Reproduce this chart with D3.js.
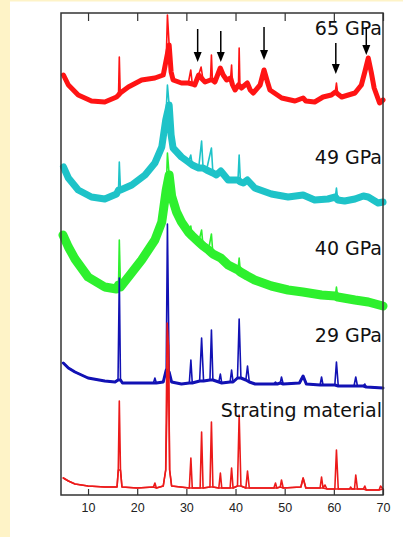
<!DOCTYPE html>
<meta charset="utf-8">
<style>
body { margin: 0; background: #fff; }
svg { display: block; }
.axis text { font: 12.5px "Liberation Sans", sans-serif; fill: #222; }
.axis path { display: none; }
.axis line { stroke: #333; stroke-width: 1.2; }
.band, .trace { fill: none; stroke-linejoin: round; stroke-linecap: round; }
.label { font: 19px "DejaVu Sans", sans-serif; fill: #111; text-anchor: end; }
</style>
<body>
<svg width="403" height="537"></svg>
<script src="https://d3js.org/d3.v7.min.js"></script>
<script>
// [2theta (deg), intensity (arb. units, patterns stacked)]
var p65 = [[5.0,420],[6.0,410],[8.0,400],[10.7,394],[13.4,393],[15.8,398],[16.2,400],[16.36,438],[16.55,402],[18.2,408],[20.9,415],[23.6,417],[25.3,420],[25.9,435],[26.15,480],[26.5,450],[26.9,423],[27.3,415],[29.0,412],[30.4,412],[30.9,425],[31.2,411],[31.7,410],[32.5,420],[33.0,428],[33.4,415],[33.8,413],[34.9,415],[35.1,440],[35.3,415],[35.8,413],[36.9,427],[37.5,420],[38.2,415],[39.0,417],[39.2,430],[39.4,410],[39.9,405],[40.6,410],[40.74,447],[40.9,409],[41.2,407],[42.4,412],[43.0,405],[43.6,402],[45.0,410],[45.8,425],[46.5,413],[47.0,405],[49.4,397],[52.1,394],[53.75,397],[54.3,394],[56.1,393],[57.8,398],[59.5,400],[60.3,403],[60.53,412],[60.8,401],[61.6,398],[64.3,402],[65.6,410],[66.3,423],[67.0,437],[67.6,423],[68.2,407],[69.3,392],[70.0,395]];
var p49 = [[5.0,328],[6.0,317],[8.0,305],[10.7,298],[13.4,296],[15.8,301],[16.2,305],[16.36,333],[16.6,305],[18.9,310],[21.6,320],[23.6,332],[25.0,348],[25.8,375],[26.15,410],[26.5,390],[26.9,360],[27.3,347],[29.0,338],[30.4,333],[30.9,340],[31.2,330],[32.5,327],[33.1,354],[33.4,327],[34.1,325],[35.1,347],[35.4,322],[36.1,320],[37.0,324],[38.5,315],[40.5,315],[40.74,340],[41.0,313],[41.6,312],[42.4,315],[43.9,307],[47.3,301],[50.7,298],[53.75,300],[56.1,295],[58.8,296],[60.3,298],[60.53,307],[60.8,295],[62.2,294],[64.3,296],[66.0,299],[67.0,298],[69.0,292],[70.0,293]];
var p40 = [[4.9,260],[6.0,248],[7.35,236],[10.0,218],[13.4,208],[15.8,206],[16.2,210],[16.36,255],[16.6,208],[18.2,218],[20.9,235],[23.6,255],[25.0,273],[25.9,305],[26.15,342],[26.5,320],[27.0,299],[28.0,283],[29.0,273],[30.4,263],[30.9,269],[31.2,259],[32.5,253],[33.1,265],[33.4,249],[34.5,245],[35.1,261],[35.4,241],[37.0,237],[38.5,230],[40.5,225],[40.74,237],[41.0,223],[42.4,219],[43.9,215],[47.3,209],[50.7,205],[53.7,203],[57.5,200],[60.3,199],[60.53,208],[60.8,198],[64.3,195],[67.0,193],[70.0,189]];
var p29 = [[4.97,132],[6.0,127],[7.35,123],[10.0,117],[13.4,114],[15.5,113],[16.1,115],[16.36,217],[16.6,115],[17.0,112],[20.0,112],[23.3,112],[23.6,117],[23.9,112],[25.3,113],[25.9,125],[26.15,271],[26.5,123],[27.0,113],[29.0,111],[30.6,112],[30.92,135],[31.2,112],[32.7,114],[33.1,157],[33.5,114],[34.8,115],[35.1,165],[35.4,115],[36.6,113],[36.92,121],[37.2,112],[38.9,113],[39.2,125],[39.5,113],[40.4,117],[40.74,176],[41.1,117],[42.1,115],[42.44,129],[42.8,113],[44.0,111],[47.8,111],[48.13,113],[48.5,111],[49.1,112],[49.35,118],[49.7,111],[53.0,112],[53.75,119],[54.4,111],[57.2,110],[57.5,118],[57.8,110],[60.2,110],[60.53,133],[60.9,109],[64.1,109],[64.46,118],[64.8,109],[66.0,109],[66.3,111],[66.6,108],[70.0,107]];
var pStart = [[4.97,17],[6.0,14],[7.35,11],[10.0,9],[13.4,8],[15.9,8],[16.15,25],[16.36,94],[16.6,25],[16.9,8],[20.0,7],[23.3,8],[23.6,12],[23.9,7],[25.3,9],[25.8,25],[26.1,172],[26.35,150],[26.6,25],[27.0,9],[30.6,7],[30.92,37],[31.2,7],[32.8,7],[33.1,63],[33.4,7],[34.8,8],[35.1,73],[35.4,8],[36.6,7],[36.92,22],[37.2,7],[38.9,7],[39.2,27],[39.5,7],[40.4,9],[40.74,80],[41.1,9],[42.1,7],[42.44,24],[42.8,7],[47.8,7],[48.13,12],[48.4,7],[49.1,8],[49.35,15],[49.7,7],[53.3,8],[53.75,17],[54.3,7],[57.2,7],[57.5,18],[57.8,7],[58.2,10],[58.6,6],[60.2,6],[60.53,45],[60.9,6],[63.2,6],[63.4,8],[63.7,6],[64.2,6],[64.46,20],[64.8,6],[66.0,6],[66.3,9],[66.6,5],[69.2,5],[69.5,9],[70.0,6]];

var names = ["65 GPa", "49 GPa", "40 GPa", "29 GPa", "Strating material"];
var patterns = [p65, p49, p40, p29, pStart];
var colors = ["#ff1414", "#1ec3c8", "#2ef02e", "#1212b4", "#ec1a1a"];
var noiseWidth = [5, 7, 9, 3, 1.5];   // thickness of the noisy background band
var labelLevel = [460, 331, 240, 153, 78];

// arrows on the 65 GPa pattern: 2theta, tip and tail intensity
var arrowTheta = [32.3, 37.0, 45.8, 60.4, 66.6];
var arrowTip = [433, 433, 435, 421, 440];
var arrowTail = [466, 464, 468, 452, 468];

var xTicks = [10, 20, 30, 40, 50, 60, 70];

var svg = d3.select("svg"),
    margin = {top: 13, right: 20, bottom: 42, left: 61},
    width = +svg.attr("width") - margin.left - margin.right,
    height = +svg.attr("height") - margin.top - margin.bottom;

// page background
svg.append("rect").attr("width", 10).attr("height", 537).attr("fill", "#fef3c7");
svg.append("rect").attr("width", 403).attr("height", 1.5).attr("fill", "#fef3c7");

var g = svg.append("g").attr("transform", "translate(" + margin.left + "," + margin.top + ")");

var x = d3.scaleLinear().domain([4.5, 70]).range([0, width]);
var y = d3.scaleLinear().domain([0, 482]).range([height, 0]);

g.append("g").attr("class", "axis")
  .attr("transform", "translate(0," + height + ")")
  .call(d3.axisBottom(x).tickValues(xTicks).tickSize(-6).tickPadding(8));

g.append("g").attr("class", "axis")
  .call(d3.axisTop(x).tickValues(xTicks).tickSize(-8).tickFormat(""));

var line = d3.line()
  .x(function(d) { return x(d[0]); })
  .y(function(d) { return y(d[1]); });

// sharp spikes (an apex with a close neighbour) are left out of the thick band
function background(p) {
  return p.filter(function(d, i) {
    if (i === 0 || i === p.length - 1) return true;
    var narrow = d[0] - p[i - 1][0] <= 0.4 || p[i + 1][0] - d[0] <= 0.4;
    var apex = d[1] > p[i - 1][1] && d[1] > p[i + 1][1];
    return !(narrow && apex);
  });
}

var pat = g.selectAll(".pattern")
  .data(patterns)
  .enter().append("g")
  .attr("class", "pattern");

pat.append("path")
  .attr("class", "band")
  .attr("d", function(d) { return line(background(d)); })
  .attr("stroke", function(d, i) { return colors[i]; })
  .attr("stroke-width", function(d, i) { return noiseWidth[i]; });

pat.append("path")
  .attr("class", "trace")
  .attr("d", line)
  .attr("stroke", function(d, i) { return colors[i]; })
  .attr("stroke-width", 1.6);

g.append("rect")
  .attr("width", width).attr("height", height)
  .attr("fill", "none").attr("stroke", "#333").attr("stroke-width", 1.5);

g.selectAll(".label")
  .data(names)
  .enter().append("text")
  .attr("class", "label")
  .attr("x", x(70) - 1)
  .attr("y", function(d, i) { return y(labelLevel[i]); })
  .text(function(d) { return d; });

var arrows = g.selectAll(".arrow")
  .data(arrowTheta)
  .enter().append("g")
  .attr("class", "arrow");

arrows.append("line")
  .attr("x1", function(d) { return x(d); })
  .attr("x2", function(d) { return x(d); })
  .attr("y1", function(d, i) { return y(arrowTail[i]); })
  .attr("y2", function(d, i) { return y(arrowTip[i]) - 8; })
  .attr("stroke", "#000").attr("stroke-width", 1.5);

arrows.append("path")
  .attr("d", function(d, i) {
    var px = x(d), py = y(arrowTip[i]);
    return "M" + (px - 4) + "," + (py - 10) + "L" + (px + 4) + "," + (py - 10) + "L" + px + "," + py + "Z";
  })
  .attr("fill", "#000");
</script>
</body>
